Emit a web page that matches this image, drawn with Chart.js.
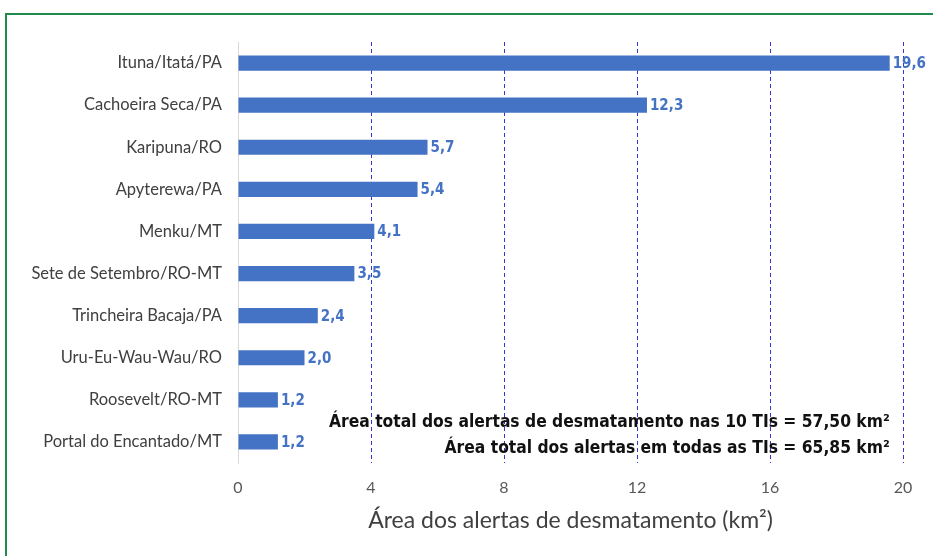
<!DOCTYPE html>
<html>
<head>
<meta charset="utf-8">
<script src="https://cdn.jsdelivr.net/npm/chart.js@4.4.0/dist/chart.umd.min.js"></script>
<style>
  html, body { margin: 0; padding: 0; background: #fff; }
  #wrap { position: relative; width: 933px; height: 556px; overflow: hidden; }
  #frame { position: absolute; left: 5px; top: 13px; width: 1000px; height: 600px;
           border-left: 2px solid #1f8b4c; border-top: 2px solid #1f8b4c; }
  canvas { position: absolute; left: 0; top: 0; }
</style>
</head>
<body>
<div id="wrap">
  <div id="frame"></div>
  <canvas id="chart" width="933" height="556"></canvas>
</div>
<script>
// chart data
const territories = [
  'Ituna/Itatá/PA', 'Cachoeira Seca/PA', 'Karipuna/RO', 'Apyterewa/PA', 'Menku/MT',
  'Sete de Setembro/RO-MT', 'Trincheira Bacaja/PA', 'Uru-Eu-Wau-Wau/RO',
  'Roosevelt/RO-MT', 'Portal do Encantado/MT'
];
const alertArea = [19.6, 12.3, 5.7, 5.4, 4.1, 3.5, 2.4, 2.0, 1.2, 1.2];
const xTicks = [0, 4, 8, 12, 16, 20];
const notes = [
  'Área total dos alertas de desmatamento nas 10 TIs = 57,50 km²',
  'Área total dos alertas em todas as TIs = 65,85 km²'
];

const FONT = 'Lato, "Open Sans", sans-serif';
const BOLD_FONT = '"DejaVu Sans Condensed", "DejaVu Sans", sans-serif';

// value labels at the end of each bar + the two summary lines
const labelPlugin = {
  id: 'barLabels',
  afterDatasetsDraw(chart) {
    const ctx = chart.ctx;
    const meta = chart.getDatasetMeta(0);
    ctx.save();
    ctx.font = 'bold 15px ' + BOLD_FONT;
    ctx.fillStyle = '#4472C4';
    ctx.textAlign = 'left';
    ctx.textBaseline = 'middle';
    meta.data.forEach((bar, i) => {
      const txt = alertArea[i].toFixed(1).replace('.', ',');
      ctx.fillText(txt, bar.x + 3, bar.y + 1);
    });

    // summary text, right aligned near the end of the x axis
    const xs = chart.scales.x, ys = chart.scales.y;
    ctx.font = 'bold 17.3px ' + BOLD_FONT;
    ctx.fillStyle = '#111';
    ctx.textAlign = 'right';
    const right = xs.getPixelForValue(19.6);
    ctx.fillText(notes[0], right, ys.getPixelForValue(8.55));
    ctx.fillText(notes[1], right, ys.getPixelForValue(9.15));
    ctx.restore();
  }
};

new Chart(document.getElementById('chart'), {
  type: 'bar',
  data: {
    labels: territories,
    datasets: [{
      data: alertArea,
      backgroundColor: '#4472C4',
      categoryPercentage: 1,
      barPercentage: 0.36
    }]
  },
  options: {
    indexAxis: 'y',
    responsive: false,
    animation: false,
    layout: { padding: { top: 42, right: 30, bottom: 0, left: 0 } },
    plugins: { legend: { display: false }, tooltip: { enabled: false } },
    scales: {
      x: {
        min: 0, max: 20,
        afterBuildTicks: s => { s.ticks = xTicks.map(v => ({ value: v })); },
        afterFit: s => { s.height = 93; },
        grid: {
          drawTicks: false,
          color: c => c.tick && c.tick.value === 0 ? 'rgba(0,0,0,0)' : '#3434d8',
          lineWidth: 1
        },
        border: { display: false, dash: [4, 3] },
        ticks: { padding: 15, color: '#595959', font: { family: FONT, size: 16 } },
        title: {
          display: true,
          text: 'Área dos alertas de desmatamento (km²)',
          color: '#404040',
          font: { family: FONT, size: 23 },
          padding: { top: 22, bottom: 22 }
        }
      },
      y: {
        afterFit: s => { s.width = 238; },
        grid: { display: false },
        border: { display: true, color: '#d9d9d9', width: 1 },
        ticks: { padding: 8, color: '#404040', font: { family: FONT, size: 16.5 } }
      }
    }
  },
  plugins: [labelPlugin]
});
</script>
</body>
</html>
